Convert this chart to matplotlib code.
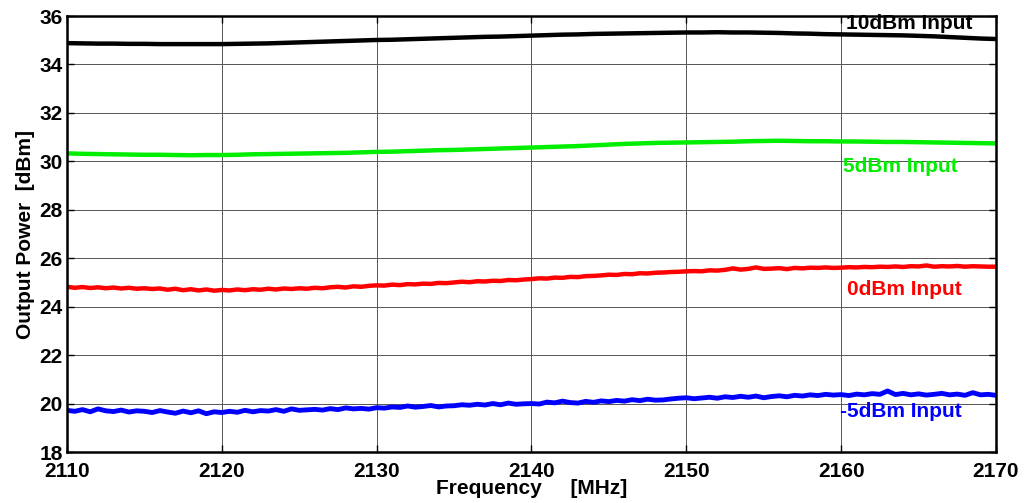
import numpy as np
import matplotlib.pyplot as plt

# frequency axes (MHz)
freq_coarse = np.arange(2110, 2171, 1.0)
freq_fine = np.arange(2110, 2170.01, 0.5)

# 10 dBm input (1 MHz steps)
out_10dbm = [34.88, 34.87, 34.86, 34.86, 34.85, 34.85, 34.84, 34.84, 34.84, 34.84,
             34.84, 34.85, 34.86, 34.87, 34.89, 34.91, 34.93, 34.95, 34.97, 34.99,
             35.01, 35.02, 35.04, 35.06, 35.08, 35.10, 35.12, 35.14, 35.15, 35.17,
             35.19, 35.21, 35.23, 35.24, 35.26, 35.27, 35.28, 35.29, 35.30, 35.31,
             35.32, 35.32, 35.33, 35.32, 35.32, 35.31, 35.30, 35.28, 35.27, 35.25,
             35.24, 35.23, 35.22, 35.21, 35.20, 35.18, 35.16, 35.13, 35.10, 35.07,
             35.05]

# 5 dBm input (1 MHz steps)
out_5dbm = [30.33, 30.31, 30.30, 30.29, 30.28, 30.27, 30.27, 30.26, 30.25, 30.26,
            30.26, 30.27, 30.29, 30.30, 30.31, 30.32, 30.33, 30.34, 30.35, 30.37,
            30.39, 30.40, 30.42, 30.44, 30.46, 30.47, 30.49, 30.51, 30.53, 30.55,
            30.57, 30.59, 30.61, 30.63, 30.66, 30.69, 30.72, 30.74, 30.76, 30.77,
            30.78, 30.79, 30.80, 30.81, 30.83, 30.84, 30.85, 30.84, 30.83, 30.83,
            30.82, 30.82, 30.81, 30.80, 30.80, 30.79, 30.78, 30.77, 30.76, 30.75,
            30.74]

# 0 dBm input (0.5 MHz steps)
out_0dbm = [24.82, 24.78, 24.81, 24.77, 24.80, 24.76, 24.79, 24.75, 24.78, 24.74,
            24.76, 24.73, 24.75, 24.70, 24.74, 24.68, 24.72, 24.67, 24.71, 24.66,
            24.69, 24.67, 24.71, 24.68, 24.72, 24.70, 24.74, 24.71, 24.75, 24.73,
            24.76, 24.74, 24.78, 24.76, 24.80, 24.82, 24.79, 24.84, 24.82, 24.86,
            24.88, 24.87, 24.91, 24.89, 24.93, 24.92, 24.95, 24.94, 24.98, 24.97,
            25.00, 25.03, 25.01, 25.05, 25.04, 25.07, 25.06, 25.10, 25.09, 25.12,
            25.14, 25.17, 25.16, 25.20, 25.19, 25.23, 25.22, 25.26, 25.27, 25.29,
            25.32, 25.31, 25.35, 25.34, 25.38, 25.37, 25.40, 25.41, 25.43, 25.44,
            25.46, 25.47, 25.46, 25.50, 25.49, 25.52, 25.58, 25.53, 25.56, 25.62,
            25.56, 25.57, 25.59, 25.55, 25.60, 25.58, 25.61, 25.60, 25.62, 25.60,
            25.61, 25.63, 25.62, 25.64, 25.63, 25.65, 25.64, 25.66, 25.64, 25.67,
            25.66, 25.70, 25.65, 25.67, 25.66, 25.68, 25.65, 25.67, 25.66, 25.65,
            25.65]

# -5 dBm input (0.5 MHz steps)
out_m5dbm = [19.72, 19.68, 19.75, 19.66, 19.78, 19.70, 19.67, 19.73, 19.65, 19.70,
             19.68, 19.63, 19.71, 19.65, 19.60, 19.69, 19.62, 19.70, 19.58, 19.66,
             19.63, 19.68, 19.64, 19.72, 19.66, 19.71, 19.69, 19.75, 19.68, 19.78,
             19.72, 19.74, 19.76, 19.73, 19.79, 19.75, 19.82, 19.78, 19.80, 19.77,
             19.83, 19.81, 19.86, 19.84, 19.90, 19.85, 19.88, 19.92, 19.86, 19.90,
             19.91, 19.95, 19.93, 19.97, 19.94, 20.00, 19.95, 20.02, 19.97, 19.99,
             20.00, 19.98, 20.06, 20.03, 20.10, 20.04, 20.02, 20.09, 20.05, 20.11,
             20.08, 20.13, 20.10, 20.16, 20.12, 20.18, 20.14, 20.15, 20.19, 20.22,
             20.24, 20.20, 20.23, 20.26, 20.22, 20.28, 20.25, 20.30, 20.26, 20.31,
             20.24, 20.29, 20.32, 20.28, 20.34, 20.31, 20.36, 20.33, 20.38, 20.35,
             20.37, 20.33, 20.39, 20.36, 20.41, 20.38, 20.52, 20.37, 20.42, 20.36,
             20.40, 20.35, 20.38, 20.42, 20.36, 20.39, 20.34, 20.45, 20.36, 20.38,
             20.34]

label_text = ['10dBm Input', '5dBm Input', '0dBm Input', '-5dBm Input']
label_x = [2160.3, 2160.1, 2160.4, 2159.9]
label_y = [35.67, 29.77, 24.72, 19.69]
colors = ['black', '#00ee00', '#ff0000', '#0000ff']

plt.rcParams['font.family'] = ['Liberation Sans', 'DejaVu Sans']
plt.rcParams['font.weight'] = 'bold'

fig = plt.figure(figsize=(10.26, 5.03), dpi=100)
ax = fig.add_axes([67 / 1026, 1 - 452 / 503, (996 - 67) / 1026, (452 - 16) / 503])

ax.plot(freq_coarse, out_10dbm, color=colors[0], lw=3.2)
ax.plot(freq_coarse, out_5dbm, color=colors[1], lw=3.2)
ax.plot(freq_fine, out_0dbm, color=colors[2], lw=3.2)
ax.plot(freq_fine, out_m5dbm, color=colors[3], lw=3.5)

for t, x, y, c in zip(label_text, label_x, label_y, colors):
    ax.text(x, y, t, color=c, fontsize=15, fontweight='bold', va='center', ha='left')

ax.set_xlim(2110, 2170)
ax.set_ylim(18, 36)
ax.set_xticks(np.arange(2110, 2171, 10))
ax.set_yticks(np.arange(18, 37, 2))
ax.grid(True, color='#555555', lw=0.7)
ax.tick_params(direction='in', top=True, right=True, labelsize=15, length=5, width=1)
ax.tick_params(axis='x', pad=7)
ax.tick_params(axis='y', pad=3)
for s in ax.spines.values():
    s.set_linewidth(1.8)

ax.set_xlabel('Frequency     [MHz]', fontsize=15, fontweight='bold', labelpad=-1)
ax.set_ylabel('Output Power  [dBm]', fontsize=15, fontweight='bold', labelpad=3)

fig.savefig('out.png', dpi=100)
